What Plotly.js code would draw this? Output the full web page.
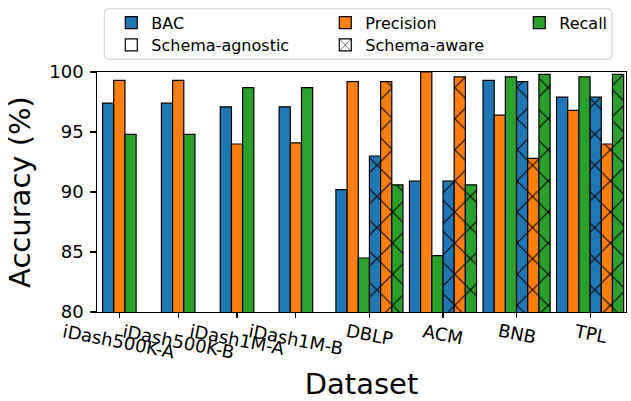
<!DOCTYPE html>
<html><head><meta charset="utf-8">
<script src="https://cdn.plot.ly/plotly-3.0.1.min.js"></script>
<style>html,body{margin:0;padding:0;background:#fff}</style>
</head><body><div id="chart" style="width:631px;height:401px"></div>
<script>
// ---- data ----
const datasets = ['iDash500K-A','iDash500K-B','iDash1M-A','iDash1M-B','DBLP','ACM','BNB','TPL'];
const agnosticBAC       = [97.4, 97.4, 97.1, 97.1, 90.2, 90.9, 99.3, 97.9];
const agnosticPrecision = [99.3, 99.3, 94.0, 94.1, 99.2, 100.0, 96.4, 96.8];
const agnosticRecall    = [94.8, 94.8, 98.7, 98.7, 84.5, 84.7, 99.6, 99.6];
const awareBAC          = [null, null, null, null, 93.0, 90.9, 99.2, 97.9];
const awarePrecision    = [null, null, null, null, 99.2, 99.6, 92.8, 94.0];
const awareRecall       = [null, null, null, null, 90.6, 90.6, 99.8, 99.8];
const yTicks = [80, 85, 90, 95, 100];

// ---- layout helpers ----
const groupPos = [0, 1, 2, 3, 4.25, 5.5, 6.75, 8];
const W = 0.19;
const colors = ['#1f77b4', '#ff7f0e', '#2ca02c'];
const metricNames = ['BAC', 'Precision', 'Recall'];
const agn = [agnosticBAC, agnosticPrecision, agnosticRecall];
const awr = [awareBAC, awarePrecision, awareRecall];

function xFor(k, aware) {
  return groupPos.map((p, i) => {
    const hasAware = awareBAC[i] !== null;
    if (!hasAware) return p + (k - 1) * W;
    return p + (aware ? (k + 0.5) : (k - 2.5)) * W;
  });
}
const edge = {color: '#000', width: 1.2};
const legendIds = ['legend', 'legend2', 'legend3'];
const traces = [];
for (let k = 0; k < 3; k++) {
  traces.push({
    type: 'bar', name: metricNames[k], x: xFor(k, false), y: agn[k], width: W,
    marker: {color: colors[k], line: edge}, legend: legendIds[k], hoverinfo: 'y'
  });
}
for (let k = 0; k < 3; k++) {
  const xs = xFor(k, true);
  const xv = [], yv = [];
  awr[k].forEach((v, i) => { if (v !== null) { xv.push(xs[i]); yv.push(v); } });
  traces.push({
    type: 'bar', name: metricNames[k] + ' (schema-aware)', x: xv, y: yv, width: W, showlegend: false,
    marker: {color: colors[k], line: edge,
      pattern: {shape: 'x', size: 22, solidity: 0.1, fgcolor: '#000', bgcolor: colors[k], fillmode: 'replace'}},
    hoverinfo: 'y'
  });
}
traces.push({type: 'bar', name: 'Schema-agnostic', x: [null], y: [null], legend: 'legend4',
  marker: {color: '#fff', line: edge}});
traces.push({type: 'bar', name: 'Schema-aware', x: [null], y: [null], legend: 'legend5',
  marker: {color: '#fff', line: edge, pattern: {shape: 'x', size: 12, solidity: 0.14, fgcolor: '#000', bgcolor: '#fff', fillmode: 'replace'}}});

const L = 96.7, R = 625.7, T = 69, B = 312.3;
const px2x = px => (px - L) / (R - L);
const py2y = py => (B - py) / (B - T);
function leg(pxLeft, pyMid) {
  return {x: px2x(pxLeft), y: py2y(pyMid), xanchor: 'left', yanchor: 'middle',
    bgcolor: 'rgba(0,0,0,0)', borderwidth: 0, font: {size: 16, color: '#000'}};
}
const bx0 = px2x(104), bx1 = px2x(611.7), by0 = py2y(56), by1 = py2y(5);
const rx = 4 / (R - L), ry = 4 / (B - T);
const boxPath = `M${bx0+rx},${by0} L${bx1-rx},${by0} Q${bx1},${by0} ${bx1},${by0+ry} L${bx1},${by1-ry} Q${bx1},${by1} ${bx1-rx},${by1} L${bx0+rx},${by1} Q${bx0},${by1} ${bx0},${by1-ry} L${bx0},${by0+ry} Q${bx0},${by0} ${bx0+rx},${by0} Z`;

const annotations = datasets.map((d, i) => ({
  text: d, x: groupPos[i], xref: 'x', y: py2y(318), yref: 'paper',
  xanchor: 'center', yanchor: 'top', showarrow: false, textangle: 11,
  font: {size: 18, color: '#000'}
}));

const layout = {
  width: 631, height: 401,
  margin: {l: L, r: 631 - R, t: T, b: 401 - B, pad: 0},
  font: {family: 'DejaVu Sans', color: '#000'},
  paper_bgcolor: '#fff', plot_bgcolor: '#fff',
  barmode: 'overlay', bargap: 0,
  showlegend: true,
  legend: leg(111, 19), legend2: leg(325, 19), legend3: leg(519, 19),
  legend4: leg(111, 41.7), legend5: leg(325, 41.7),
  xaxis: {range: [-0.38, 8.61], tickvals: groupPos, showticklabels: false,
    ticks: 'outside', ticklen: 5, tickwidth: 1.2, tickcolor: '#000',
    showline: true, linecolor: '#000', linewidth: 1.2, mirror: true, showgrid: false, zeroline: false,
    title: {text: 'Dataset', font: {size: 29, color: '#000'}, standoff: 62}},
  yaxis: {range: [80, 100], tickvals: yTicks, ticktext: yTicks.map(String),
    ticks: 'outside', ticklen: 5.5, tickwidth: 1.2, tickcolor: '#000', ticklabelstandoff: 3,
    tickfont: {size: 18, color: '#000'},
    showline: true, linecolor: '#000', linewidth: 1.2, mirror: true, showgrid: false, zeroline: false,
    title: {text: 'Accuracy (%)', font: {size: 29, color: '#000'}, standoff: 10}},
  shapes: [{type: 'path', xref: 'paper', yref: 'paper', path: boxPath,
    line: {color: '#cccccc', width: 1}, fillcolor: 'rgba(255,255,255,0.8)', layer: 'below'}],
  annotations: annotations
};
Plotly.newPlot('chart', traces, layout, {displayModeBar: false, staticPlot: true});
</script></body></html>
